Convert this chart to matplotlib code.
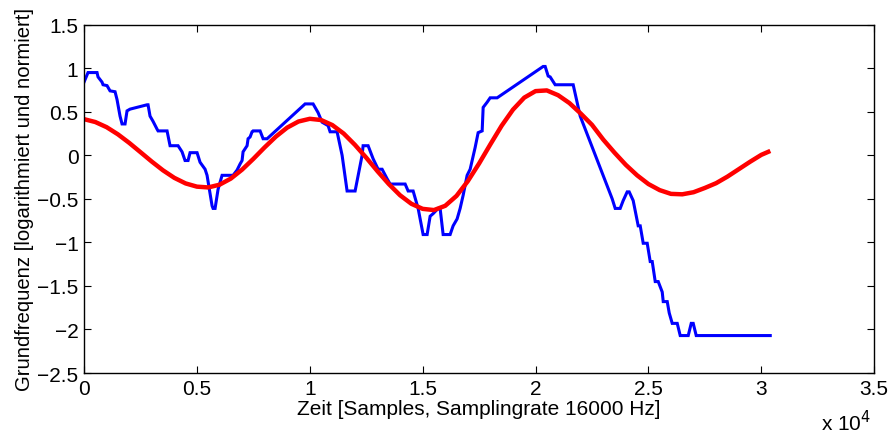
import matplotlib
matplotlib.use("Agg")
import matplotlib.pyplot as plt
from matplotlib.ticker import FuncFormatter

# Blue: measured (stepwise) pitch contour
blue_x = [0, 177, 576, 620, 798, 842, 1019, 1152, 1374, 1462, 1595, 1684, 1817, 1905, 2038,
          2792, 2836, 2924, 3057, 3235, 3279, 3678, 3811, 4165, 4342, 4475, 4608, 4697, 5007,
          5140, 5362, 5450, 5672, 5716, 5805, 5938, 6115, 6602, 6779, 6912, 7001, 7045, 7223,
          7267, 7355, 7444, 7488, 7799, 7932, 8109, 9793, 10147, 10368, 10546, 10812, 10900,
          11210, 11432, 11653, 12008, 12318, 12362, 12584, 12806, 13027, 13204, 13426, 13559,
          14224, 14357, 14578, 14800, 15021, 15198, 15331, 15464, 15686, 15774, 15907, 16217,
          16350, 16527, 16660, 16793, 16970, 17104, 17325, 17458, 17636, 17680, 17857, 17990,
          18300, 20338, 20427, 20560, 20648, 20870, 21668, 21978, 23396, 23529, 23750, 23883,
          24060, 24149, 24326, 24548, 24637, 24770, 24947, 25080, 25169, 25302, 25435, 25612,
          25657, 25834, 25922, 26055, 26277, 26409, 26764, 26897, 26985, 27118, 30397]
blue_y = [0.84, 0.95, 0.95, 0.90, 0.84, 0.81, 0.80, 0.74, 0.73, 0.64, 0.45, 0.36, 0.36, 0.51, 0.53,
          0.58, 0.58, 0.45, 0.39, 0.30, 0.28, 0.28, 0.11, 0.11, 0.04, -0.06, -0.06, 0.03, 0.03,
          -0.08, -0.16, -0.23, -0.58, -0.61, -0.61, -0.39, -0.23, -0.23, -0.17, -0.10, -0.06, 0.04, 0.11,
          0.19, 0.21, 0.27, 0.28, 0.28, 0.19, 0.19, 0.59, 0.59, 0.49, 0.38, 0.34, 0.27,
          0.27, 0.0, -0.41, -0.41, 0.0, 0.11, 0.11, -0.04, -0.16, -0.16, -0.27, -0.33,
          -0.33, -0.41, -0.41, -0.61, -0.91, -0.91, -0.70, -0.67, -0.61, -0.61, -0.91, -0.91,
          -0.81, -0.73, -0.61, -0.46, -0.23, -0.16, 0.09, 0.26, 0.28, 0.55, 0.61, 0.66,
          0.66, 1.02, 1.02, 0.91, 0.90, 0.81, 0.81, 0.45, -0.50, -0.61, -0.61, -0.52,
          -0.42, -0.42, -0.52, -0.81, -0.81, -1.01, -1.01, -1.22, -1.22, -1.45, -1.45, -1.57,
          -1.68, -1.68, -1.81, -1.93, -1.93, -2.07, -2.07, -1.93, -1.93, -2.07, -2.07]

# Red: smooth model contour
red_x = [0, 500, 1000, 1500, 2000, 2500, 3000, 3500, 4000, 4500, 5000, 5500, 6000, 6500, 7000,
         7500, 8000, 8500, 9000, 9500, 10000, 10500, 11000, 11500, 12000, 12500, 13000, 13500,
         14000, 14500, 15000, 15500, 16000, 16500, 17000, 17500, 18000, 18500, 19000, 19500,
         20000, 20500, 21000, 21500, 22000, 22500, 23000, 23500, 24000, 24500, 25000, 25500,
         26000, 26500, 27000, 27500, 28000, 28500, 29000, 29500, 30000, 30400]
red_y = [0.415, 0.382, 0.323, 0.241, 0.143, 0.036, -0.072, -0.173, -0.259, -0.323, -0.36, -0.369,
         -0.338, -0.268, -0.165, -0.041, 0.091, 0.215, 0.318, 0.388, 0.419, 0.405, 0.347, 0.25,
         0.12, -0.027, -0.183, -0.33, -0.459, -0.557, -0.615, -0.629, -0.58, -0.466, -0.297,
         -0.094, 0.126, 0.34, 0.524, 0.662, 0.737, 0.745, 0.69, 0.60, 0.48, 0.35, 0.18, 0.03,
         -0.11, -0.23, -0.33, -0.40, -0.443, -0.448, -0.424, -0.375, -0.32, -0.245, -0.16,
         -0.075, 0.005, 0.05]

x_ticks = [0, 5000, 10000, 15000, 20000, 25000, 30000, 35000]
y_ticks = [-2.5, -2, -1.5, -1, -0.5, 0, 0.5, 1, 1.5]

plt.rcParams['font.family'] = ['Liberation Sans', 'DejaVu Sans']
plt.rcParams['axes.unicode_minus'] = True

fig = plt.figure(figsize=(8.92, 4.35), dpi=100)
ax = fig.add_axes([0.0942, 0.1402, 0.8858, 0.8008])

ax.plot(blue_x, blue_y, color='#0000ff', lw=2.2, solid_joinstyle='miter')
ax.plot(red_x, red_y, color='#ff0000', lw=3.2, solid_capstyle='butt')

ax.set_xlim(0, 35000)
ax.set_ylim(-2.5, 1.5)
ax.set_xticks(x_ticks)
ax.set_yticks(y_ticks)
ax.xaxis.set_major_formatter(FuncFormatter(lambda v, p: f"{v/1e4:g}"))
ax.yaxis.set_major_formatter(FuncFormatter(lambda v, p: f"{v:g}".replace('-', '\u2212')))
ax.tick_params(direction='in', top=True, right=True, length=5, width=0.8, labelsize=15)
ax.tick_params(axis='x', pad=4)
ax.tick_params(axis='y', pad=4)
for s in ax.spines.values():
    s.set_linewidth(1.0)

ax.set_xlabel('Zeit [Samples, Samplingrate 16000 Hz]', fontsize=15, labelpad=1)
ax.set_ylabel('Grundfrequenz [logarithmiert und normiert]', fontsize=14.6, labelpad=2)
fig.text(0.977, 0.0, r'x 10$^{4}$', fontsize=15, ha='right', va='bottom')

fig.savefig('out.png', dpi=100)
